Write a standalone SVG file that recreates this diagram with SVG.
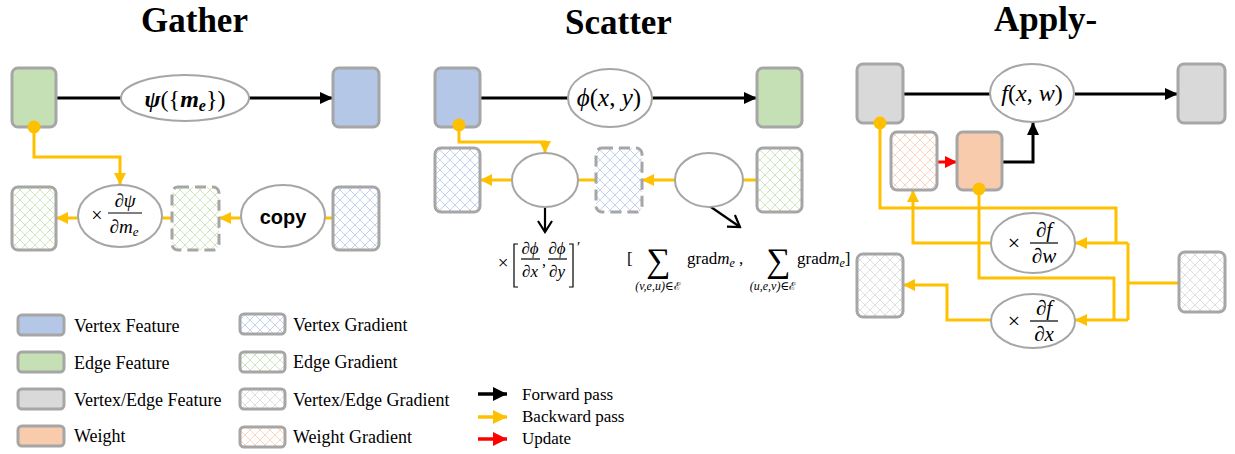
<svg xmlns="http://www.w3.org/2000/svg" width="1235" height="454" viewBox="0 0 1235 454">
<style>
.box{stroke:#a6a6a6;stroke-width:3}
.dash{stroke-dasharray:11 6}
.vf{fill:#b4c7e7}.ef{fill:#c5e0b4}.gf{fill:#d9d9d9}.wf{fill:#f8cbad}
.hb{fill:url(#hb)}.hg{fill:url(#hg)}.hx{fill:url(#hx)}.ho{fill:url(#ho)}
.ell{fill:#fff;stroke:#a6a6a6;stroke-width:2}
.fw{fill:none;stroke:#000;stroke-width:3}
.bw{fill:none;stroke:#ffc000;stroke-width:3}
.up{fill:none;stroke:#ff0000;stroke-width:3}
.dot{fill:#ffc000}
.title{font-family:"Liberation Serif",serif;font-weight:bold;font-size:35px;fill:#000}
.leg{font-family:"Liberation Serif",serif;font-size:18px;fill:#000}
.leg2{font-family:"Liberation Serif",serif;font-size:17px;fill:#000}
.m{font-family:"Liberation Serif","DejaVu Serif",serif;font-style:italic;fill:#000}
.mu{font-family:"Liberation Serif","DejaVu Serif",serif;font-style:normal;fill:#000}
.sc{font-family:"DejaVu Serif",serif;font-style:normal}
.cp{font-family:"Liberation Sans",Arial,sans-serif;font-weight:bold;font-size:20px;fill:#000}
.bar{stroke:#000;stroke-width:1.2}
</style>
<defs>
<pattern id="hb" width="10" height="10" patternUnits="userSpaceOnUse"><rect width="10" height="10" fill="#fff"/><path d="M0,0L10,10M10,0L0,10" stroke="#a9bfe6" stroke-width="0.7"/></pattern>
<pattern id="hg" width="10" height="10" patternUnits="userSpaceOnUse"><rect width="10" height="10" fill="#fff"/><path d="M0,0L10,10M10,0L0,10" stroke="#b7d9a0" stroke-width="0.7"/></pattern>
<pattern id="hx" width="10" height="10" patternUnits="userSpaceOnUse"><rect width="10" height="10" fill="#fff"/><path d="M0,0L10,10M10,0L0,10" stroke="#d0d0d0" stroke-width="0.7"/></pattern>
<pattern id="ho" width="10" height="10" patternUnits="userSpaceOnUse"><rect width="10" height="10" fill="#fff"/><path d="M0,0L10,10M10,0L0,10" stroke="#f7c3a0" stroke-width="0.7"/></pattern>
<marker id="ak" markerUnits="userSpaceOnUse" markerWidth="13" markerHeight="12" refX="13" refY="6" orient="auto"><path d="M0,0L13,6L0,12z" fill="#000"/></marker>
<marker id="ay" markerUnits="userSpaceOnUse" markerWidth="12" markerHeight="12" refX="12" refY="6" orient="auto"><path d="M0,0L12,6L0,12z" fill="#ffc000"/></marker>
<marker id="ar" markerUnits="userSpaceOnUse" markerWidth="12" markerHeight="12" refX="12" refY="6" orient="auto"><path d="M0,0L12,6L0,12z" fill="#ff0000"/></marker>
<marker id="ao" markerUnits="userSpaceOnUse" markerWidth="14" markerHeight="16" refX="12" refY="8" orient="auto"><path d="M1,1L12,8L1,15" fill="none" stroke="#000" stroke-width="2.2"/></marker>
<marker id="lk" markerUnits="userSpaceOnUse" markerWidth="14" markerHeight="14" refX="14" refY="7" orient="auto"><path d="M0,0L14,7L0,14z" fill="#000"/></marker>
<marker id="ly" markerUnits="userSpaceOnUse" markerWidth="14" markerHeight="14" refX="14" refY="7" orient="auto"><path d="M0,0L14,7L0,14z" fill="#ffc000"/></marker>
<marker id="lr" markerUnits="userSpaceOnUse" markerWidth="14" markerHeight="14" refX="14" refY="7" orient="auto"><path d="M0,0L14,7L0,14z" fill="#ff0000"/></marker>
</defs>

<text class="title" x="141" y="32">Gather</text>
<text class="title" x="565" y="34">Scatter</text>
<text class="title" x="994" y="31">Apply-</text>

<g id="connectors">
<path class="fw" d="M56,98H121"/>
<path class="fw" d="M249,98H333" marker-end="url(#ak)"/>
<path class="bw" d="M34,127V157H120V185" marker-end="url(#ay)"/>
<path class="bw" d="M333,218H325"/>
<path class="bw" d="M241,218H219" marker-end="url(#ay)"/>
<path class="bw" d="M172,218H162"/>
<path class="bw" d="M78,218H56" marker-end="url(#ay)"/>
<path class="fw" d="M480,98H568"/>
<path class="fw" d="M652,98H757" marker-end="url(#ak)"/>
<path class="bw" d="M459,125V142H545V153" marker-end="url(#ay)"/>
<path class="bw" d="M757,180H743"/>
<path class="bw" d="M675,180H642" marker-end="url(#ay)"/>
<path class="bw" d="M596,180H578"/>
<path class="bw" d="M512,180H480" marker-end="url(#ay)"/>
<path class="fw" style="stroke-width:2.2" d="M545,207V232" marker-end="url(#ao)"/>
<path class="fw" style="stroke-width:2.2" d="M708,205L740,227" marker-end="url(#ao)"/>
<path class="fw" d="M903,94H990"/>
<path class="fw" d="M1075,94H1178" marker-end="url(#ak)"/>
<path class="up" d="M937,162H957" marker-end="url(#ar)"/>
<path class="fw" d="M1002,162H1033V122" marker-end="url(#ak)"/>
<path class="bw" d="M880,123V208H1116V243"/>
<path class="bw" d="M979,189V278H1114V320"/>
<path class="bw" d="M1179,283H1128"/>
<path class="bw" d="M1128,243V320"/>
<path class="bw" d="M1128,243H1075" marker-end="url(#ay)"/>
<path class="bw" d="M1128,320H1075" marker-end="url(#ay)"/>
<path class="bw" d="M992,243H913V190" marker-end="url(#ay)"/>
<path class="bw" d="M992,320H947V285H903" marker-end="url(#ay)"/>
</g>

<g id="g-edge-feature"><rect class="box ef" x="12" y="68" width="44" height="59" rx="6"/></g>
<g id="g-psi"><ellipse class="ell" cx="185" cy="98" rx="64" ry="23"/>
<text x="185" y="107" text-anchor="middle" font-size="24" class="m" font-weight="bold">ψ<tspan class="mu" font-weight="normal" font-style="normal">({</tspan>m<tspan font-size="16" dy="4">e</tspan><tspan class="mu" font-weight="normal" font-style="normal" dy="-4">})</tspan></text></g>
<g id="g-vertex-feature"><rect class="box vf" x="333" y="68" width="46" height="59" rx="6"/></g>
<circle class="dot" cx="34" cy="127" r="6.5"/>
<g id="g-edge-grad"><rect class="box hg" x="12" y="187" width="44" height="63" rx="6"/></g>
<g id="g-dpsi"><ellipse class="ell" cx="120" cy="216" rx="42" ry="31"/>
<text class="mu" x="97" y="222" font-size="20" text-anchor="middle">×</text>
<text class="m" x="125" y="207" font-size="19" text-anchor="middle">∂ψ</text>
<line class="bar" x1="108" y1="213" x2="142" y2="213"/>
<text class="m" x="124" y="233" font-size="19" text-anchor="middle">∂m<tspan font-size="13" dy="3">e</tspan></text></g>
<g id="g-edge-grad-tmp"><rect class="box hg dash" x="172" y="187" width="47" height="63" rx="6"/></g>
<g id="g-copy"><ellipse class="ell" cx="283" cy="216" rx="42" ry="31"/>
<text class="cp" x="283" y="224" text-anchor="middle">copy</text></g>
<g id="g-vertex-grad"><rect class="box hb" x="333" y="187" width="46" height="63" rx="6"/></g>

<g id="s-vertex-feature"><rect class="box vf" x="435" y="68" width="45" height="59" rx="6"/></g>
<g id="s-phi"><ellipse class="ell" cx="610" cy="98" rx="42" ry="29"/>
<text class="m" x="609" y="106" font-size="25" text-anchor="middle">ϕ<tspan class="mu">(</tspan>x<tspan class="mu">, </tspan>y<tspan class="mu">)</tspan></text></g>
<g id="s-edge-feature"><rect class="box ef" x="757" y="68" width="45" height="59" rx="6"/></g>
<circle class="dot" cx="459" cy="125" r="6.5"/>
<g id="s-vertex-grad"><rect class="box hb" x="435" y="148" width="45" height="64" rx="6"/></g>
<g id="s-ell1"><ellipse class="ell" cx="545" cy="180" rx="33" ry="27"/></g>
<g id="s-vertex-grad-tmp"><rect class="box hb dash" x="596" y="148" width="46" height="64" rx="6"/></g>
<g id="s-ell2"><ellipse class="ell" cx="709" cy="180" rx="34" ry="27"/></g>
<g id="s-edge-grad"><rect class="box hg" x="757" y="148" width="45" height="64" rx="6"/></g>
<g id="s-formula1">
<text class="mu" x="503" y="269" font-size="19" text-anchor="middle">×</text>
<path d="M518,244H514V287H518" fill="none" stroke="#000" stroke-width="1.2"/>
<text class="m" x="530" y="254" font-size="17" text-anchor="middle">∂ϕ</text>
<line class="bar" x1="521" y1="259" x2="540" y2="259"/>
<text class="m" x="530" y="277" font-size="17" text-anchor="middle">∂x</text>
<text class="mu" x="542" y="266" font-size="16">,</text>
<text class="m" x="557" y="254" font-size="17" text-anchor="middle">∂ϕ</text>
<line class="bar" x1="548" y1="259" x2="567" y2="259"/>
<text class="m" x="557" y="277" font-size="17" text-anchor="middle">∂y</text>
<path d="M569,244H573V287H569" fill="none" stroke="#000" stroke-width="1.2"/>
<text class="mu" x="577" y="252" font-size="15">′</text>
</g>
<g id="s-formula2">
<text class="mu" x="627" y="264" font-size="17">[</text>
<text class="mu" x="658" y="272" font-size="34" text-anchor="middle">∑</text>
<text class="m" x="658" y="290" font-size="12" text-anchor="middle">(v,e,u)∈<tspan class="sc" font-size="11">ℰ</tspan></text>
<text class="mu" x="687" y="264" font-size="17">grad<tspan class="m">m</tspan><tspan class="m" font-size="12" dy="3">e</tspan><tspan dy="-3"> ,</tspan></text>
<text class="mu" x="778" y="272" font-size="34" text-anchor="middle">∑</text>
<text class="m" x="773" y="290" font-size="12" text-anchor="middle">(u,e,v)∈<tspan class="sc" font-size="11">ℰ</tspan></text>
<text class="mu" x="797" y="264" font-size="17">grad<tspan class="m">m</tspan><tspan class="m" font-size="12" dy="3">e</tspan><tspan dy="-3">]</tspan></text>
</g>

<g id="a-feature-in"><rect class="box gf" x="857" y="64" width="46" height="59" rx="6"/></g>
<g id="a-f"><ellipse class="ell" cx="1032" cy="93" rx="42" ry="29"/>
<text class="m" x="1032" y="101" font-size="24" text-anchor="middle">f<tspan class="mu">(</tspan>x<tspan class="mu">, </tspan>w<tspan class="mu">)</tspan></text></g>
<g id="a-feature-out"><rect class="box gf" x="1178" y="64" width="47" height="59" rx="6"/></g>
<circle class="dot" cx="880" cy="123" r="6.5"/>
<g id="a-weight-grad"><rect class="box ho" x="891" y="132" width="46" height="58" rx="6"/></g>
<g id="a-weight"><rect class="box wf" x="957" y="132" width="45" height="58" rx="6"/></g>
<circle class="dot" cx="979" cy="189" r="6.5"/>
<g id="a-dfdw"><ellipse class="ell" cx="1033" cy="243" rx="42" ry="30"/>
<text class="mu" x="1014" y="250" font-size="22" text-anchor="middle">×</text>
<text class="m" x="1044" y="237" font-size="21" text-anchor="middle">∂f</text>
<line class="bar" x1="1030" y1="243" x2="1058" y2="243"/>
<text class="m" x="1044" y="263" font-size="21" text-anchor="middle">∂w</text></g>
<g id="a-dfdx"><ellipse class="ell" cx="1033" cy="321" rx="42" ry="27"/>
<text class="mu" x="1014" y="328" font-size="22" text-anchor="middle">×</text>
<text class="m" x="1044" y="315" font-size="21" text-anchor="middle">∂f</text>
<line class="bar" x1="1030" y1="321" x2="1058" y2="321"/>
<text class="m" x="1044" y="341" font-size="21" text-anchor="middle">∂x</text></g>
<g id="a-grad-in"><rect class="box hx" x="857" y="254" width="46" height="63" rx="6"/></g>
<g id="a-grad-out"><rect class="box hx" x="1179" y="252" width="46" height="60" rx="6"/></g>

<g id="legend">
<rect class="box vf" x="18" y="315" width="46" height="20" rx="4"/><text class="leg" x="74" y="332">Vertex Feature</text>
<rect class="box ef" x="18" y="352" width="46" height="20" rx="4"/><text class="leg" x="74" y="369">Edge Feature</text>
<rect class="box gf" x="18" y="389" width="46" height="20" rx="4"/><text class="leg" x="74" y="406">Vertex/Edge Feature</text>
<rect class="box wf" x="18" y="426" width="46" height="20" rx="4"/><text class="leg" x="74" y="442">Weight</text>
<rect class="box hb" x="240" y="314" width="45" height="20" rx="4"/><text class="leg" x="293" y="331">Vertex Gradient</text>
<rect class="box hg" x="240" y="352" width="45" height="20" rx="4"/><text class="leg" x="293" y="368">Edge Gradient</text>
<rect class="box hx" x="240" y="389" width="45" height="20" rx="4"/><text class="leg" x="293" y="406">Vertex/Edge Gradient</text>
<rect class="box ho" x="240" y="427" width="45" height="20" rx="4"/><text class="leg" x="293" y="443">Weight Gradient</text>
<path d="M478,394H507" stroke="#000" stroke-width="3.5" marker-end="url(#lk)"/><text class="leg2" x="522" y="400">Forward pass</text>
<path d="M478,417H507" stroke="#ffc000" stroke-width="3.5" marker-end="url(#ly)"/><text class="leg2" x="522" y="422">Backward pass</text>
<path d="M478,439H507" stroke="#ff0000" stroke-width="3.5" marker-end="url(#lr)"/><text class="leg2" x="522" y="444">Update</text>
</g>
</svg>
